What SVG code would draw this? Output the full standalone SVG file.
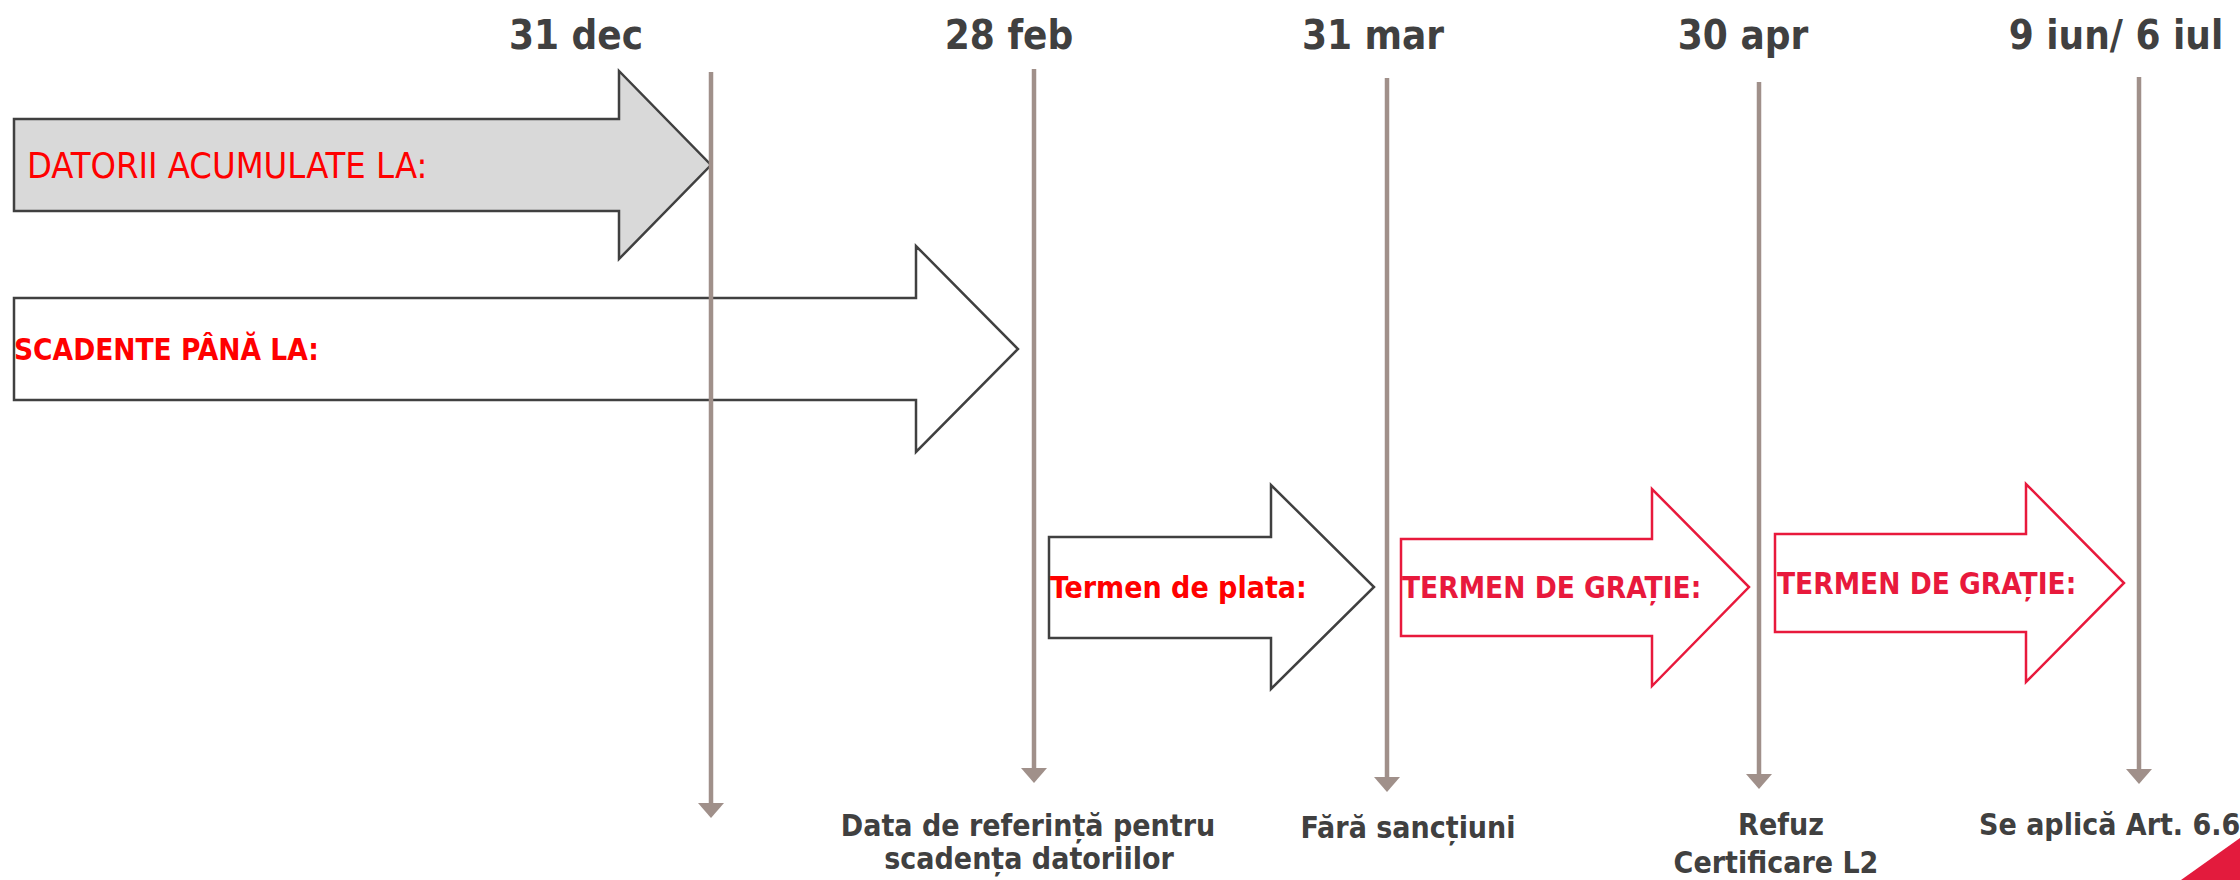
<svg xmlns="http://www.w3.org/2000/svg" width="2240" height="880" viewBox="0 0 2240 880">
  <defs>
    <marker id="tip" viewBox="0 0 15 26" refX="0" refY="13" markerWidth="15" markerHeight="26" markerUnits="userSpaceOnUse" orient="auto">
      <path d="M0,0 L15,13 L0,26 Z" fill="#A0908A"/>
    </marker>
  </defs>
  <style>
    .date { font-family: "DejaVu Sans Condensed", "DejaVu Sans", sans-serif; font-stretch: condensed; font-weight: bold; font-size: 40px; fill: #404040; text-anchor: middle; }
    .lbl { font-family: "DejaVu Sans Condensed", "DejaVu Sans", sans-serif; font-stretch: condensed; font-weight: bold; font-size: 30px; fill: #404040; }
    .red { font-family: "DejaVu Sans Condensed", "DejaVu Sans", sans-serif; font-stretch: condensed; fill: #FF0000; }
    .crim { font-family: "DejaVu Sans Condensed", "DejaVu Sans", sans-serif; font-stretch: condensed; font-weight: bold; font-size: 29.5px; fill: #E8193C; }
    .arrowK { stroke: #404040; stroke-width: 2.5; stroke-linejoin: miter; }
    .arrowR { stroke: #E8193C; stroke-width: 2.5; fill: #FFFFFF; }
    .tl { stroke: #A0908A; stroke-width: 4.5; fill: none; marker-end: url(#tip); }
  </style>
  <rect width="2240" height="880" fill="#FFFFFF"/>

  <g id="arrow-datorii">
    <path class="arrowK" fill="#D9D9D9" d="M14,119 H619 V71 L711,165 L619,259 V211 H14 Z"/>
    <text class="red" x="27" y="178" font-size="36">DATORII ACUMULATE LA:</text>
  </g>
  <g id="arrow-scadente">
    <path class="arrowK" fill="#FFFFFF" d="M14,298 H916 V246 L1018,349 L916,452 V400 H14 Z"/>
    <text class="red" x="14" y="360" font-size="29.5" font-weight="bold">SCADENTE PÂNĂ LA:</text>
  </g>
  <g id="arrow-termen-plata">
    <path class="arrowK" fill="#FFFFFF" d="M1049,537 H1271 V485 L1374,587 L1271,689 V638 H1049 Z"/>
    <text class="red" x="1050" y="598" font-size="30" font-weight="bold">Termen de plata:</text>
  </g>
  <g id="arrow-gratie-1">
    <path class="arrowR" d="M1401,539 H1652 V489 L1749,587 L1652,686 V636 H1401 Z"/>
    <text class="crim" x="1402" y="598">TERMEN DE GRAȚIE:</text>
  </g>
  <g id="arrow-gratie-2">
    <path class="arrowR" d="M1775,534 H2026 V484 L2124,583 L2026,682 V632 H1775 Z"/>
    <text class="crim" x="1777" y="594">TERMEN DE GRAȚIE:</text>
  </g>

  <g id="timelines">
    <line class="tl" x1="711" y1="72" x2="711" y2="803"/>
    <line class="tl" x1="1034" y1="69" x2="1034" y2="768"/>
    <line class="tl" x1="1387" y1="78" x2="1387" y2="777"/>
    <line class="tl" x1="1759" y1="82" x2="1759" y2="774"/>
    <line class="tl" x1="2139" y1="77" x2="2139" y2="769"/>
  </g>

  <g id="date-31dec"><text class="date" x="576" y="49">31 dec</text></g>
  <g id="date-28feb"><text class="date" x="1009" y="49">28 feb</text></g>
  <g id="date-31mar"><text class="date" x="1373" y="49">31 mar</text></g>
  <g id="date-30apr"><text class="date" x="1743" y="49">30 apr</text></g>
  <g id="date-9iun"><text class="date" x="2116" y="49">9 iun/ 6 iul</text></g>

  <g id="label-referinta">
    <text class="lbl" x="1028" y="836" text-anchor="middle">Data de referință pentru</text>
    <text class="lbl" x="1029" y="869" text-anchor="middle">scadența datoriilor</text>
  </g>
  <g id="label-fara-sanctiuni">
    <text class="lbl" x="1408" y="838" text-anchor="middle">Fără sancțiuni</text>
  </g>
  <g id="label-refuz">
    <text class="lbl" x="1781" y="835" text-anchor="middle">Refuz</text>
    <text class="lbl" x="1776" y="873" text-anchor="middle">Certificare L2</text>
  </g>
  <g id="label-art">
    <text class="lbl" x="1979" y="835">Se aplică Art. 6.6</text>
  </g>

  <polygon points="2181,880 2240,838 2240,880" fill="#E31B3D"/>
</svg>
